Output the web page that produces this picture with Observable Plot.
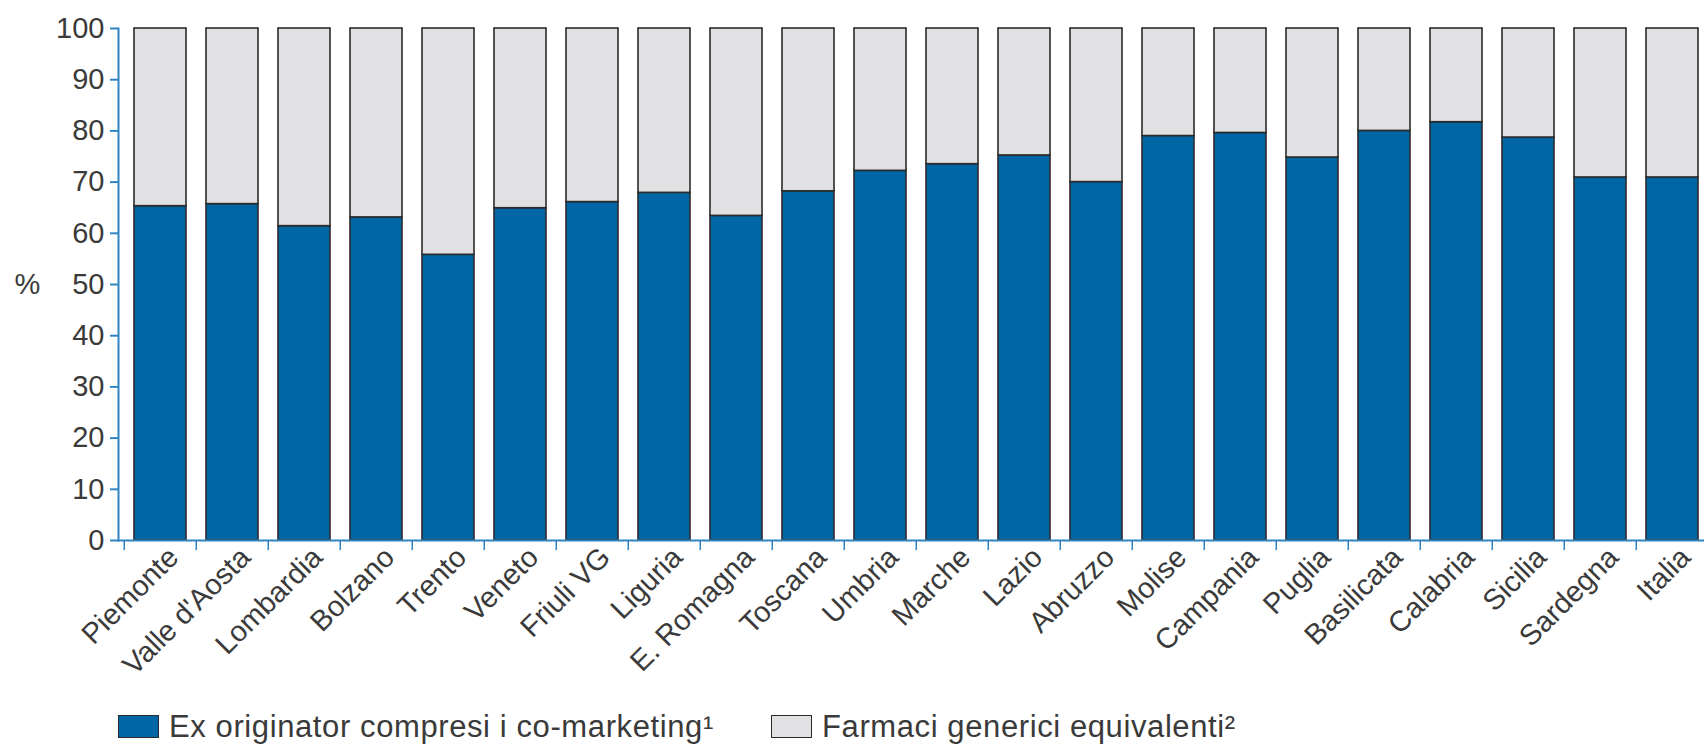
<!DOCTYPE html>
<html>
<head>
<meta charset="utf-8">
<script src="https://cdn.jsdelivr.net/npm/d3@7"></script>
<script src="https://cdn.jsdelivr.net/npm/@observablehq/plot@0.6"></script>
<style>
  html, body { margin: 0; padding: 0; background: #fff; }
  body { width: 1704px; height: 746px; overflow: hidden; font-family: "Liberation Sans", Arial, sans-serif; }
  #chart { position: relative; width: 1704px; height: 700px; }
  #legend { position: relative; width: 1704px; height: 46px; }
  .item { position: absolute; top: 11px; display: flex; align-items: center; font-size: 31px; line-height: 1; letter-spacing: 0.6px; color: #3a3a3a; white-space: nowrap; }
  .sw { width: 39px; height: 21px; border: 1.5px solid #2a2a2a; margin-right: 10px; }
</style>
</head>
<body>
<div id="chart"></div>
<div id="legend"></div>
<script>
const regions = ["Piemonte","Valle d'Aosta","Lombardia","Bolzano","Trento","Veneto","Friuli VG","Liguria","E. Romagna","Toscana","Umbria","Marche","Lazio","Abruzzo","Molise","Campania","Puglia","Basilicata","Calabria","Sicilia","Sardegna","Italia"];
const exOriginator = [65.3, 65.7, 61.4, 63.1, 55.8, 64.9, 66.1, 67.9, 63.4, 68.2, 72.2, 73.5, 75.2, 70.0, 79.0, 79.6, 74.8, 80.0, 81.7, 78.7, 70.9, 70.9];
const generici     = [34.7, 34.3, 38.6, 36.9, 44.2, 35.1, 33.9, 32.1, 36.6, 31.8, 27.8, 26.5, 24.8, 30.0, 21.0, 20.4, 25.2, 20.0, 18.3, 21.3, 29.1, 29.1];
const seriesNames = ["Ex originator compresi i co-marketing¹", "Farmaci generici equivalenti²"];
const seriesColors = ["#0066a6", "#e1e1e3"];
const yTicks = [0,10,20,30,40,50,60,70,80,90,100];

const rows = [];
regions.forEach((r, i) => {
  rows.push({region: r, series: seriesNames[0], value: exOriginator[i]});
  rows.push({region: r, series: seriesNames[1], value: generici[i]});
});

const W = 1704, H = 700, mL = 118, mR = -9, mT = 28, mB = 160;
const step = (W - mL - mR) / regions.length;
const axisBlue = "#2f84c4";
const textCol = "#3a3a3a";

const plot = Plot.plot({
  width: W, height: H,
  marginLeft: mL, marginRight: mR, marginTop: mT, marginBottom: mB,
  style: {fontFamily: '"Liberation Sans", Arial, sans-serif', background: "transparent", overflow: "visible"},
  x: {domain: regions, paddingInner: 0.28, paddingOuter: 0.14, label: null},
  y: {domain: [0, 100], label: null},
  color: {domain: seriesNames, range: seriesColors},
  marks: [
    Plot.barY(rows, {x: "region", y: "value", fill: "series", stroke: "#2b2b2b", strokeWidth: 1.6, order: seriesNames}),
    Plot.frame({anchor: "left", stroke: axisBlue, strokeWidth: 2}),
    Plot.frame({anchor: "bottom", stroke: axisBlue, strokeWidth: 2}),
    Plot.axisY({ticks: yTicks, tickSize: 8, tickPadding: 6, stroke: axisBlue, strokeWidth: 2, fill: textCol, fontSize: 29, label: null}),
    Plot.axisX({tickSize: 10, tickFormat: () => "", stroke: axisBlue, strokeWidth: 1.5, dx: -step / 2, label: null}),
    Plot.axisX({tickSize: 0, tickPadding: 12, tickRotate: -45, dx: 13, fill: textCol, fontSize: 29, label: null}),
    Plot.text(["%"], {frameAnchor: "left", dx: -91, fontSize: 29, fill: textCol, textAnchor: "middle"})
  ]
});
document.getElementById("chart").appendChild(plot);

const legend = document.getElementById("legend");
const lefts = [118, 771];
seriesNames.forEach((name, i) => {
  const it = document.createElement("div");
  it.className = "item";
  it.style.left = lefts[i] + "px";
  const sw = document.createElement("div");
  sw.className = "sw";
  sw.style.background = seriesColors[i];
  const tx = document.createElement("span");
  tx.textContent = name;
  it.appendChild(sw); it.appendChild(tx);
  legend.appendChild(it);
});
</script>
</body>
</html>
